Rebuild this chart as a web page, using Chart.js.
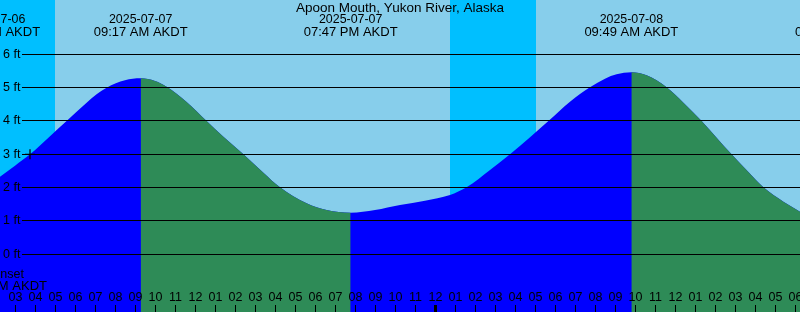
<!DOCTYPE html>
<html>
<head>
<meta charset="utf-8">
<script src="https://cdn.jsdelivr.net/npm/chart.js@4.4.1/dist/chart.umd.min.js"></script>
<style>
  html, body { margin: 0; padding: 0; background: #87ceeb; }
  canvas { display: block; }
</style>
</head>
<body>
<canvas id="tide" width="800" height="312"></canvas>
<script>
// hours counted from 2025-07-07 00:00 AKDT
const tideHours = [2.25, 3.0, 3.75, 4.67, 5.58, 6.58, 7.08, 7.58, 8.5, 9.283, 10.0, 10.58, 11.58, 12.58, 13.42, 14.42, 15.42, 16.25, 17.58, 18.58, 19.783,
  21.0, 22.25, 23.5, 24.75, 25.58, 26.75, 27.75, 29.67, 30.75, 31.75, 32.5, 33.08, 33.817, 34.58, 35.58, 36.42, 37.33, 38.08, 38.83, 39.67, 40.42, 41.42, 42.25];
const tideFeet = [2.33, 2.66, 3.0, 3.5, 4.0, 4.55, 4.8, 5.0, 5.22, 5.28, 5.2, 5.03, 4.57, 4.0, 3.53, 3.0, 2.45, 2.01, 1.53, 1.33, 1.25,
  1.33, 1.48, 1.61, 1.78, 2.01, 2.53, 3.0, 4.0, 4.58, 5.01, 5.27, 5.4, 5.46, 5.37, 5.01, 4.55, 4.0, 3.5, 3.0, 2.47, 2.01, 1.58, 1.28];

// sunset / sunrise (night bands)
const nightStart = [0.72, 24.75];
const nightEnd = [5.0, 29.05];

// event labels along the top
const eventHours = [1.93, 9.283, 19.783, 33.817, 44.35];
const eventDates = ['2025-07-06', '2025-07-07', '2025-07-07', '2025-07-08', '2025-07-08'];
const eventTimes = ['11:57 PM AKDT', '09:17 AM AKDT', '07:47 PM AKDT', '09:49 AM AKDT', '08:21 PM AKDT'];

// moon label at the bottom
const moonHours = [2.25];
const moonNames = ['Moonset'];
const moonTimes = ['02:15 AM AKDT'];

// marker
const markHours = [3.75];
const markFeet = [3.0];

const ftTicks = [0, 1, 2, 3, 4, 5, 6];
const title = 'Apoon Mouth, Yukon River, Alaska';

const xMin = 2.25, xMax = 42.25;
const yMin = -1.731, yMax = 7.629;

const RISE = '#0000ff';
const FALL = '#2e8b57';
const DAY = '#87ceeb';
const NIGHT = '#00bfff';
const FONT = '"Liberation Sans", Arial, sans-serif';

const bandsPlugin = {
  id: 'bands',
  beforeDraw(chart) {
    const { ctx, chartArea: a, scales: { x } } = chart;
    ctx.save();
    ctx.fillStyle = DAY;
    ctx.fillRect(a.left, a.top, a.right - a.left, a.bottom - a.top);
    ctx.fillStyle = NIGHT;
    nightStart.forEach((s, i) => {
      const x0 = Math.max(a.left, Math.round(x.getPixelForValue(s)));
      const x1 = Math.min(a.right, Math.round(x.getPixelForValue(nightEnd[i])));
      if (x1 > x0) ctx.fillRect(x0, a.top, x1 - x0, a.bottom - a.top);
    });
    ctx.restore();
  }
};

const overlayPlugin = {
  id: 'overlay',
  afterDatasetsDraw(chart) {
    const { ctx, chartArea: a, scales: { x, y } } = chart;
    ctx.save();
    ctx.fillStyle = '#000';
    ctx.strokeStyle = '#000';

    // height lines and labels
    ctx.lineWidth = 1;
    ctx.font = '12.5px ' + FONT;
    ctx.textAlign = 'left';
    ctx.textBaseline = 'middle';
    ftTicks.forEach(v => {
      const py = Math.floor(y.getPixelForValue(v)) + 0.5;
      ctx.beginPath();
      ctx.moveTo(22, py);
      ctx.lineTo(a.right, py);
      ctx.stroke();
      ctx.fillText(v + ' ft', 3, py);
    });

    // hour ticks
    ctx.textAlign = 'center';
    for (let h = Math.ceil(xMin); h <= Math.floor(xMax); h++) {
      const px = Math.round(x.getPixelForValue(h));
      const midnight = h % 24 === 0;
      ctx.fillRect(midnight ? px - 1 : px, a.bottom - 7, midnight ? 3 : 1, 7);
      const hr = h % 12 === 0 ? 12 : h % 12;
      ctx.fillText(String(hr).padStart(2, '0'), px + 0.5, a.bottom - 14.5);
    }

    // title
    ctx.textBaseline = 'alphabetic';
    ctx.font = '13.5px ' + FONT;
    ctx.fillText(title, (a.left + a.right) / 2, 12);

    // tide event labels
    eventHours.forEach((h, i) => {
      const px = x.getPixelForValue(h);
      ctx.font = '12.4px ' + FONT;
      ctx.fillText(eventDates[i], px, 23);
      ctx.font = '13px ' + FONT;
      ctx.fillText(eventTimes[i], px, 36);
    });

    // moon labels
    moonHours.forEach((h, i) => {
      const px = x.getPixelForValue(h);
      ctx.font = '12.5px ' + FONT;
      ctx.fillText(moonNames[i], px, 278);
      ctx.font = '13px ' + FONT;
      ctx.fillText(moonTimes[i], px, 290);
    });
    ctx.restore();
  }
};

const tidePoints = tideHours.map((h, i) => ({ x: h, y: tideFeet[i] }));

new Chart(document.getElementById('tide'), {
  type: 'line',
  data: {
    datasets: [
      {
        data: markHours.map((h, i) => ({ x: h, y: markFeet[i] })),
        showLine: false,
        pointStyle: 'cross',
        pointRadius: 5,
        borderColor: '#000',
        borderWidth: 1.2
      },
      {
        // falling tide
        data: tidePoints,
        fill: 'start',
        backgroundColor: FALL,
        borderWidth: 0,
        pointRadius: 0,
        cubicInterpolationMode: 'monotone',
        segment: {
          backgroundColor: c => c.p1.parsed.y >= c.p0.parsed.y ? 'rgba(0,0,0,0)' : FALL
        }
      },
      {
        // rising tide (whole curve underneath)
        data: tidePoints,
        fill: 'start',
        backgroundColor: RISE,
        borderWidth: 0,
        pointRadius: 0,
        cubicInterpolationMode: 'monotone'
      }
    ]
  },
  options: {
    responsive: false,
    animation: false,
    devicePixelRatio: 1,
    layout: { padding: 0, autoPadding: false },
    plugins: { legend: { display: false }, tooltip: { enabled: false } },
    scales: {
      x: { type: 'linear', min: xMin, max: xMax, display: false },
      y: { type: 'linear', min: yMin, max: yMax, display: false }
    }
  },
  plugins: [bandsPlugin, overlayPlugin]
});
</script>
</body>
</html>
